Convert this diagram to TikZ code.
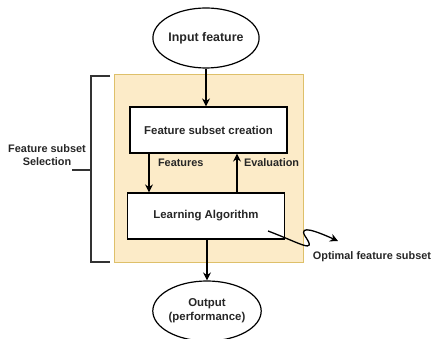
\documentclass[tikz,border=0pt]{standalone}
\usepackage{fontspec}
\setmainfont{Liberation Sans}
\usetikzlibrary{shapes.geometric,arrows.meta}
\definecolor{yfill}{HTML}{FCEBC8}
\definecolor{yline}{HTML}{DEC06A}
\definecolor{brk}{HTML}{333333}
\begin{document}
\begin{tikzpicture}[x=1pt,y=-1pt,
  txt/.style={font=\bfseries\fontsize{10.9}{13}\selectfont,text=black!85},
  btxt/.style={font=\bfseries\fontsize{11.4}{14}\selectfont,text=black!85},
  oval/.style={ellipse,draw,line width=1.2pt,minimum width=94pt,minimum height=60pt,inner sep=0pt,btxt,align=center},
  boxn/.style={draw,line width=1.2pt,fill=white,minimum width=157pt,minimum height=46pt,btxt},
  arr/.style={-{Stealth[length=8pt,width=8pt]},line width=1.4pt}]
\useasboundingbox (0,0) rectangle (434,339);
\node[draw=yline,fill=yfill,line width=1pt,minimum width=189pt,minimum height=188pt,inner sep=0pt] (frame) at (208.5,169) {};
\node[oval,font=\bfseries\fontsize{12.4}{15}\selectfont] (in) at (206,38) {Input feature};
\node[oval] (out) at (207,311) {Output\\(performance)};
\node[boxn] (b1) at (208.5,130) {Feature subset creation};
\node[boxn] (b2) at (206,216) {Learning Algorithm};
\draw[arr] (in) -- (in|-b1.north);
\draw[arr] (b2.south-|out) -- (out);
\draw[arr] (b1.south-|149,0) -- (b2.north-|149,0) node[midway,right=5pt,yshift=10pt,txt] (lf) {Features};
\draw[arr] (b2.north-|237,0) -- (b1.south-|237,0) node[midway,right=3pt,yshift=10pt,txt] (le) {Evaluation};
\coordinate (s0) at (268,231);
\coordinate (s1) at (338,241);
\draw[arr,line width=1.3pt] (s0) .. controls (300,243) and (318,255) .. (305,236)
  .. controls (298,224) and (318,232) .. (s1);
\node[txt] (opt) at (372,257) {Optimal feature subset};
\draw[brk,line width=1.2pt] (110,76) -- (91,76) -- (91,262) -- (110,262);
\draw[brk,line width=1.2pt] (91,170) -- (72,170);
\node[txt,align=center] (sel) at (47,155) {Feature subset\\Selection};
\end{tikzpicture}
\end{document}
